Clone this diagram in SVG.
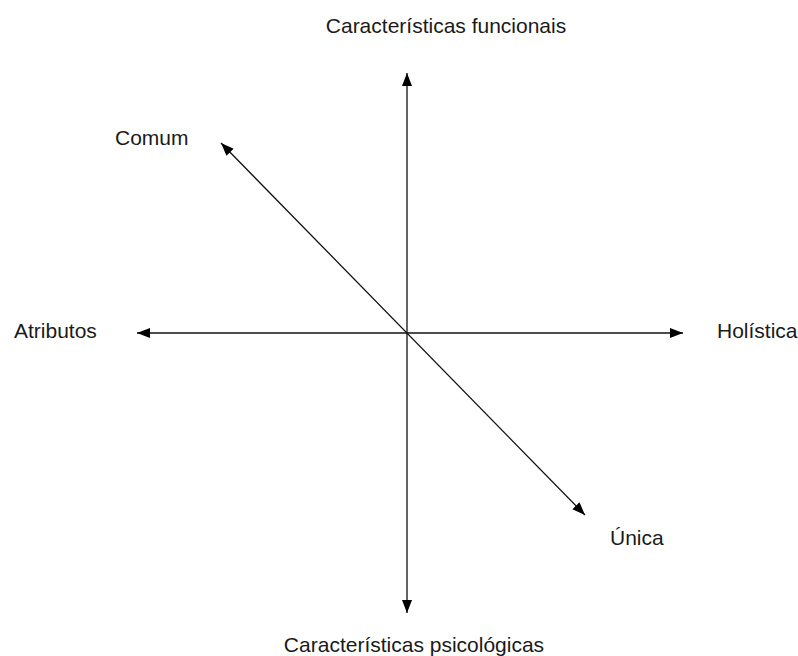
<svg xmlns="http://www.w3.org/2000/svg" width="798" height="656" viewBox="0 0 798 656">
<style>
.lbl{font-family:"Liberation Sans",Arial,sans-serif;font-size:21px;fill:#1a1a1a}
.ax{stroke:#111;stroke-width:1.3;fill:none;marker-start:url(#ah);marker-end:url(#ah)}
</style>
<defs>
<marker id="ah" markerUnits="userSpaceOnUse" markerWidth="14" markerHeight="11" refX="13" refY="5" orient="auto-start-reverse">
<path d="M0,0 L13,5 L0,10 z" fill="#000"/>
</marker>
</defs>
<rect width="798" height="656" fill="#fff"/>
<g id="connectors">
<line class="ax" x1="407" y1="613" x2="407" y2="73"/>
<line class="ax" x1="137" y1="333" x2="683" y2="333"/>
<line class="ax" x1="585" y1="515" x2="221" y2="143"/>
</g>
<g id="node-funcionais"><text class="lbl" x="446" y="33" text-anchor="middle">Características funcionais</text></g>
<g id="node-psicologicas"><text class="lbl" x="414" y="652" text-anchor="middle">Características psicológicas</text></g>
<g id="node-atributos"><text class="lbl" x="14" y="338">Atributos</text></g>
<g id="node-holistica"><text class="lbl" x="717" y="338">Holística</text></g>
<g id="node-comum"><text class="lbl" x="115" y="145">Comum</text></g>
<g id="node-unica"><text class="lbl" x="610" y="545">Única</text></g>
</svg>
